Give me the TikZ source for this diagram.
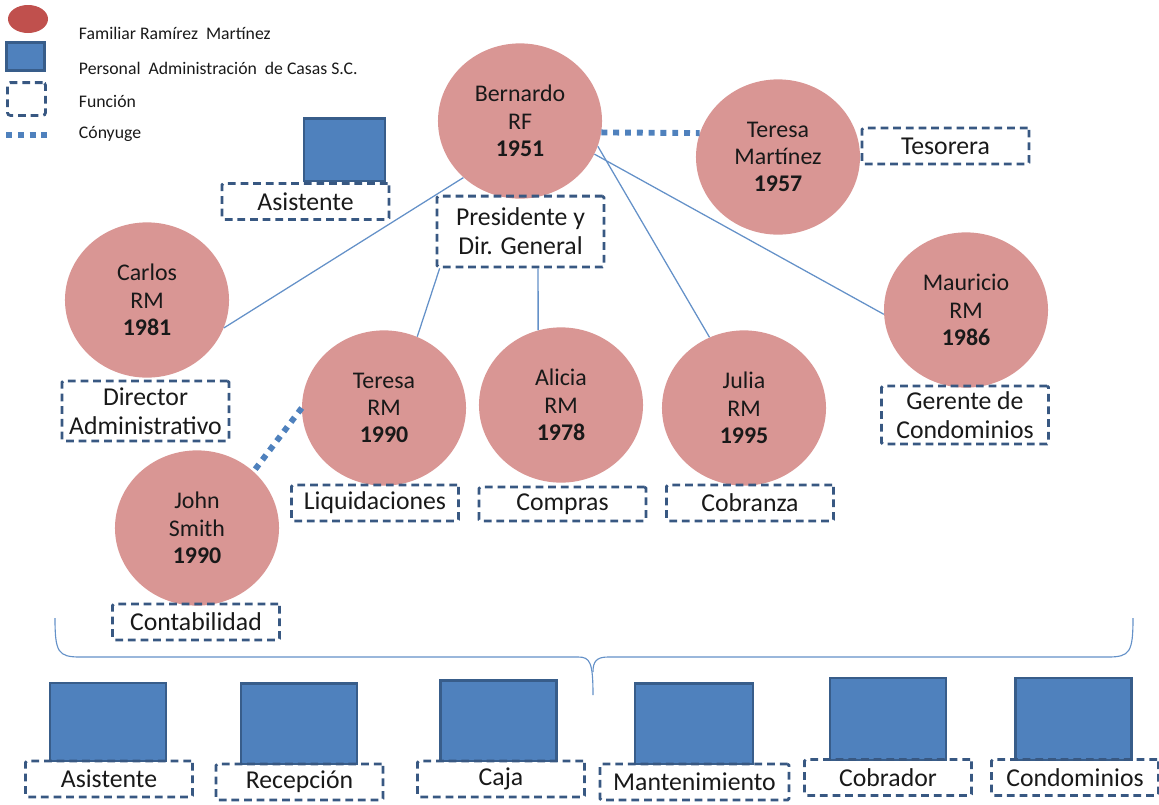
\documentclass[tikz,border=0pt]{standalone}
\usepackage{fontspec}
\setmainfont{Carlito}
\usetikzlibrary{shapes.geometric}

\definecolor{personfill}{RGB}{217,150,148}
\definecolor{legendred}{RGB}{192,80,77}
\definecolor{stafffill}{RGB}{79,129,189}
\definecolor{staffline}{RGB}{56,93,138}
\definecolor{roleline}{RGB}{56,88,130}
\definecolor{linkcol}{RGB}{100,145,200}
\definecolor{textcol}{RGB}{25,25,25}

\tikzstyle{person}=[ellipse,
    fill=personfill,
    minimum width=4.1cm,
    minimum height=3.88cm,
    inner sep=0pt,
    align=center,
    text=textcol,
    font=\fontsize{17}{19.4}\selectfont]
\tikzstyle{role}=[rectangle,
    draw=roleline,
    line width=2pt,
    dash pattern=on 5.5pt off 3.5pt,
    rounded corners=1pt,
    minimum width=4.17cm,
    minimum height=0.9cm,
    inner sep=1pt,
    align=center,
    text=textcol,
    font=\fontsize{18.3}{20.6}\selectfont]
\tikzstyle{staff}=[rectangle,
    draw=staffline,
    fill=stafffill,
    line width=2pt,
    minimum width=2.9cm,
    minimum height=2.02cm]
\tikzstyle{link}=[draw=linkcol, line width=0.9pt]
\tikzstyle{spouse}=[draw=stafffill, line width=4.2pt, dash pattern=on 4.2pt off 4.2pt]
\tikzstyle{legendtext}=[anchor=west, text=textcol, font=\fontsize{12.6}{14}\selectfont]

\begin{document}
\begin{tikzpicture}[x=0.025cm, y=-0.025cm]
    \useasboundingbox (0,0) rectangle (1159,804);

    \node (legfam) [ellipse, fill=legendred, minimum width=1cm, minimum height=0.7cm, inner sep=0pt] at (28,19) {};
    \node (legstaff) [staff, minimum width=0.95cm, minimum height=0.7cm] at (25.5,56.5) {};
    \node (legrole) [role, minimum width=0.95cm, minimum height=0.82cm, rounded corners=2pt] at (26.5,99) {};
    \coordinate (legsa) at (6,135);
    \coordinate (legsb) at (48,135);
    \draw [spouse] (legsa) -- (legsb);
    \node (txtfam) [legendtext] at (74,33) {Familiar Ramírez\ \ Martínez};
    \node (txtstaff) [legendtext] at (74,68) {Personal\ \ Administración\ \ de Casas S.C.};
    \node (txtrole) [legendtext] at (74,101) {Función};
    \node (txtspouse) [legendtext] at (74,134) {Cónyuge};

    \node (bernardo) [person] at (520,121) {Bernardo\\RF\\\textbf{1951}};
    \node (teresam) [person] at (778,157) {Teresa\\Martínez\\\textbf{1957}};
    \node (carlos) [person] at (147,300) {Carlos\\RM\\\textbf{1981}};
    \node (teresarm) [person] at (384,408) {Teresa\\RM\\\textbf{1990}};
    \node (alicia) [person] at (561,405) {Alicia\\RM\\\textbf{1978}};
    \node (julia) [person] at (744,408) {Julia\\RM\\\textbf{1995}};
    \node (mauricio) [person] at (966,310) {Mauricio\\RM\\\textbf{1986}};
    \node (john) [person] at (197,528) {John\\Smith\\\textbf{1990}};

    \node (tesorera) [role] at (945.5,146) {Tesorera};
    \node (asistop) [staff, minimum width=2.02cm, minimum height=1.57cm] at (344.5,149.5) {};
    \node (asistente) [role] at (305.5,201.5) {Asistente};
    \node (presidente) [role, minimum height=1.77cm] at (520.5,231.5) {Presidente y\\Dir. General};
    \node (director) [role, minimum height=1.5cm] at (145.5,411) {Director\\Administrativo};
    \node (liquidaciones) [role] at (375,503) {Liquidaciones};
    \node (compras) [role, minimum height=0.85cm] at (562.5,504) {Compras};
    \node (cobranza) [role] at (750,503) {Cobranza};
    \node (gerente) [role, minimum height=1.45cm] at (965,415) {Gerente de\\Condominios};
    \node (contabilidad) [role] at (196,622) {Contabilidad};

    \node (staffa) [staff, minimum height=1.95cm] at (108,722) {};
    \node (staffb) [staff] at (299,723.5) {};
    \node (staffc) [staff] at (498.5,720.5) {};
    \node (staffd) [staff, minimum width=2.95cm] at (694,723.5) {};
    \node (staffe) [staff, minimum height=2.05cm] at (888,719) {};
    \node (stafff) [staff, minimum height=2.05cm] at (1073.5,719) {};

    \node (rolea) [role] at (109,779) {Asistente};
    \node (roleb) [role] at (299.5,782) {Recepción};
    \node (rolec) [role] at (501,779) {Caja};
    \node (roled) [role, minimum width=4.72cm] at (694.5,782) {Mantenimiento};
    \node (rolee) [role] at (888,777.5) {Cobrador};
    \node (rolef) [role] at (1075,777.5) {Condominios};

    \draw [spouse] (bernardo.-8) -- (teresam.163);
    \draw [spouse] (teresarm.west) -- (john.45);
    \draw [link] (bernardo.225) -- (carlos.-20);
    \draw [link] ([xshift=0.1cm]presidente.south west) -- (teresarm.65);
    \draw [link] ([xshift=0.44cm]presidente.south) -- (alicia.107);
    \draw [link] (bernardo.-18) -- (julia.116);
    \draw [link] (bernardo.-24) -- (mauricio.183);

    \coordinate (bracel) at (55,618);
    \coordinate (bracer) at (1133,618);
    \coordinate (bracetip) at (593,695);
    \draw [link, line width=0.8pt] (bracel) .. controls (55,652) and (58,657) .. (80,657)
        -- (578,657) .. controls (590,657) and (593,662) .. (bracetip);
    \draw [link, line width=0.8pt] (bracer) .. controls (1133,652) and (1130,657) .. (1108,657)
        -- (608,657) .. controls (596,657) and (593,662) .. (593,672);
\end{tikzpicture}
\end{document}
